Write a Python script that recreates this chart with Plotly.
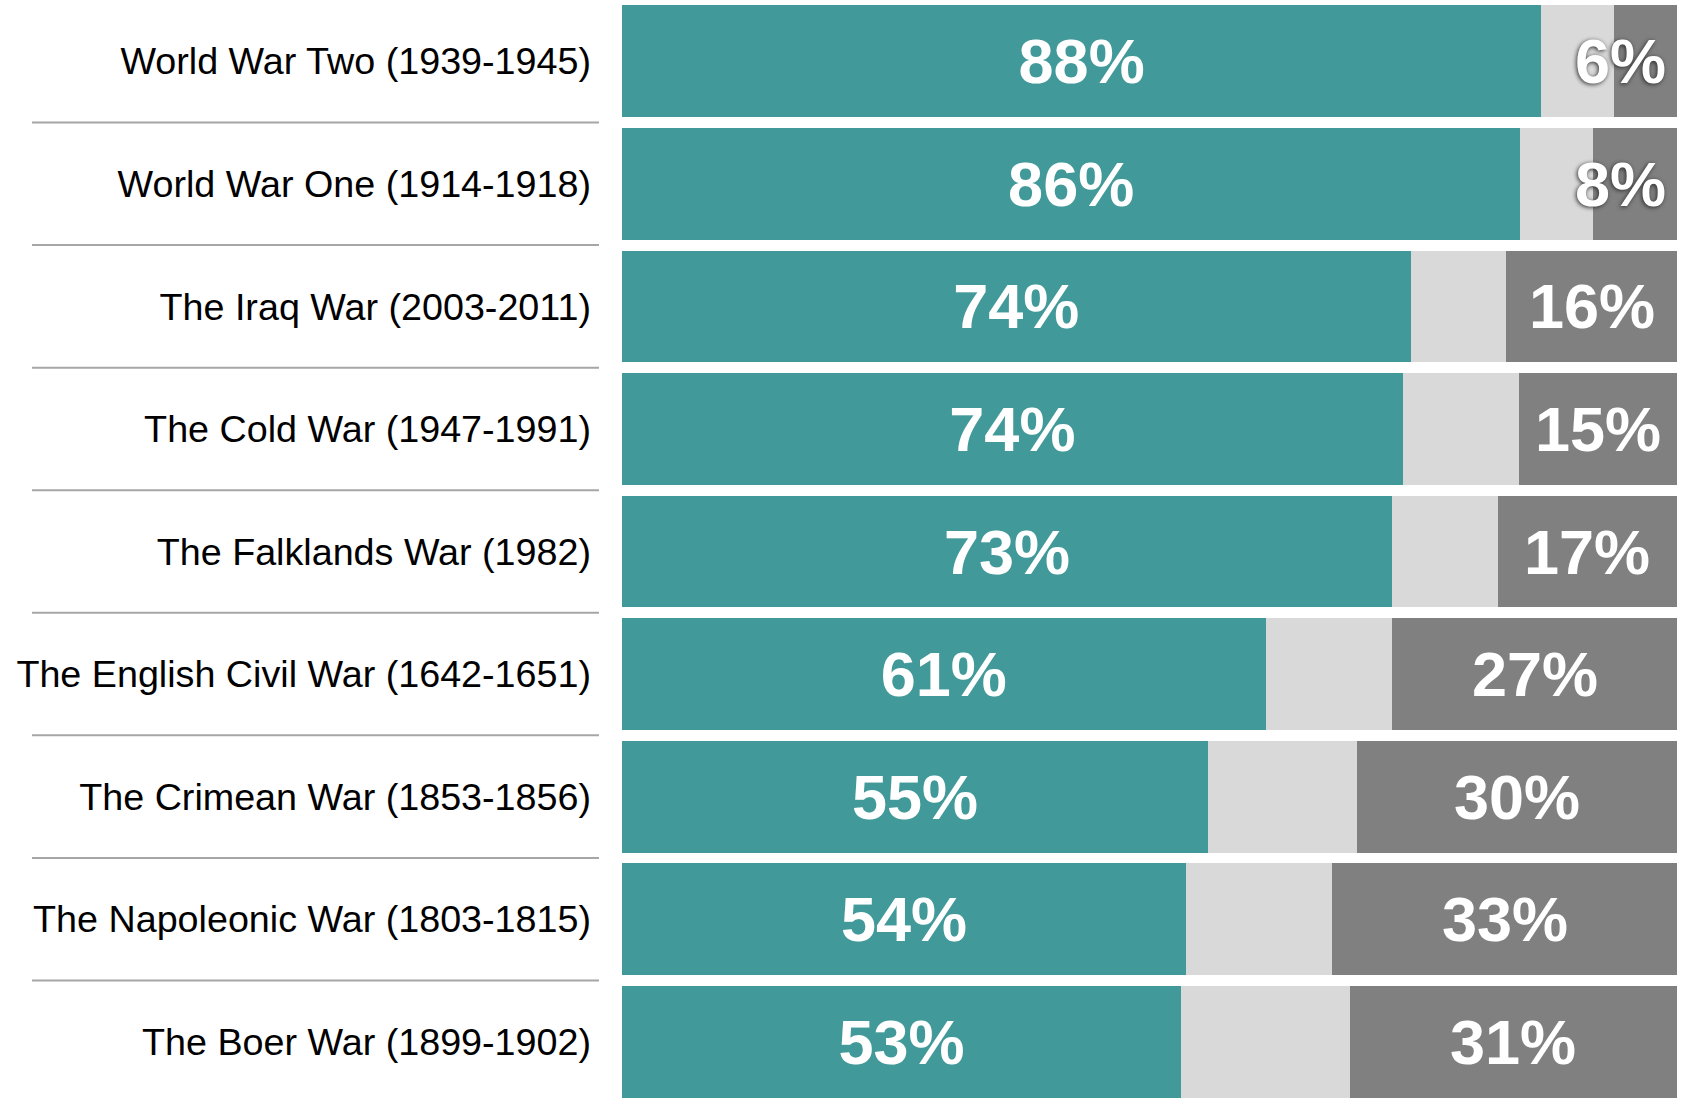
import plotly.graph_objects as go

categories = [
    "World War Two (1939-1945)",
    "World War One (1914-1918)",
    "The Iraq War (2003-2011)",
    "The Cold War (1947-1991)",
    "The Falklands War (1982)",
    "The English Civil War (1642-1651)",
    "The Crimean War (1853-1856)",
    "The Napoleonic War (1803-1815)",
    "The Boer War (1899-1902)",
]
teal_vals = [88, 86, 74, 74, 73, 61, 55, 54, 53]
mid_vals = [7, 7, 9, 11, 10, 12, 14, 14, 16]
dark_vals = [6, 8, 16, 15, 17, 27, 30, 33, 31]

TEAL = "#429999"
LIGHT = "#d9d9d9"
DARK = "#808080"
FONT = "Liberation Sans, Arial, sans-serif"
VAL_SIZE = 63

fig = go.Figure()
fig.add_trace(go.Bar(
    y=categories, x=teal_vals, orientation="h", marker=dict(color=TEAL, line=dict(width=0)),
    text=[f"{v}%" for v in teal_vals], textposition="inside", insidetextanchor="middle",
    constraintext="none",
    textfont=dict(family=FONT, size=VAL_SIZE, color="white", weight="bold"),
    hoverinfo="skip",
))
fig.add_trace(go.Bar(
    y=categories, x=mid_vals, orientation="h", marker=dict(color=LIGHT, line=dict(width=0)),
    hoverinfo="skip",
))
fig.add_trace(go.Bar(
    y=categories, x=dark_vals, orientation="h", marker=dict(color=DARK, line=dict(width=0)),
    hoverinfo="skip",
))

annotations = []
for cat, t, m, d in zip(categories, teal_vals, mid_vals, dark_vals):
    total = t + m + d
    start = (t + m) / total * 100
    end = 100.0
    width = end - start
    narrow = width < 10
    font = dict(family=FONT, size=VAL_SIZE, color="white", weight="bold")
    if narrow:
        font["shadow"] = "-1px 1px 4px rgba(40,40,40,0.95)"
        annotations.append(dict(x=end, y=cat, xref="x", yref="y", text=f"{d}%",
                                showarrow=False, xanchor="right", xshift=-9, font=font))
    else:
        annotations.append(dict(x=(start + end) / 2, y=cat, xref="x", yref="y", text=f"{d}%",
                                showarrow=False, xanchor="center", font=font))

L, R = 622, 14
W, H = 1691, 1103
plot_w = W - L - R
shapes = []
for i in range(len(categories) - 1):
    shapes.append(dict(type="line", xref="paper", yref="y",
                       x0=(32 - L) / plot_w, x1=(599 - L) / plot_w,
                       y0=i + 0.5, y1=i + 0.5,
                       line=dict(color="#a6a6a6", width=2)))

fig.update_layout(
    width=W, height=H,
    barmode="stack", barnorm="percent", bargap=0.088,
    margin=dict(l=L, r=R, t=0, b=0, autoexpand=False),
    paper_bgcolor="white", plot_bgcolor="white",
    showlegend=False,
    xaxis=dict(range=[0, 100], visible=False, fixedrange=True),
    yaxis=dict(autorange="reversed", showgrid=False, zeroline=False, showline=False,
               ticks="", ticklabelstandoff=30, fixedrange=True,
               tickfont=dict(family=FONT, size=37.7, color="black")),
    annotations=annotations,
    shapes=shapes,
)

fig.write_html("out.html", config={"displayModeBar": False},
               post_script="document.body.style.margin='0';document.body.style.overflow='hidden';")
